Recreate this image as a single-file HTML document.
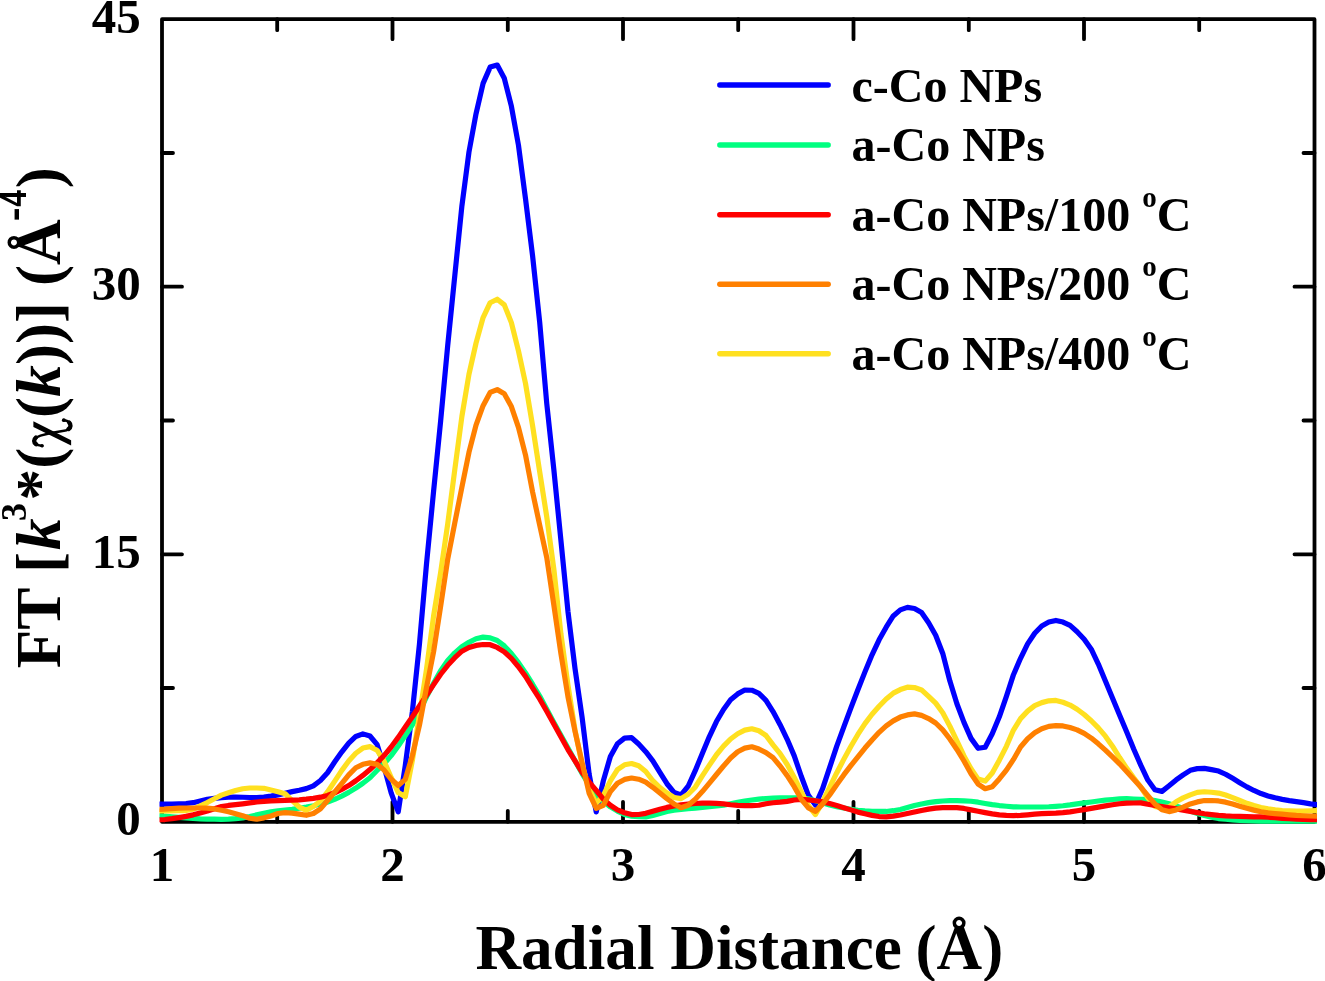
<!DOCTYPE html>
<html><head><meta charset="utf-8"><style>
html,body{margin:0;padding:0;background:#fff;}
svg{display:block;will-change:transform;}
.t{font-family:"Liberation Serif",serif;font-weight:bold;font-size:49px;fill:#000;}
.g{font-family:"Liberation Serif",serif;font-weight:bold;font-size:48px;fill:#000;}
.L{font-family:"Liberation Serif",serif;font-weight:bold;font-size:63.2px;fill:#000;}
</style></head><body>
<svg width="1325" height="981" viewBox="0 0 1325 981">
<rect width="1325" height="981" fill="#fff"/>
<path d="M162.0 19.2 H1314.5 V821.8 H162.0 Z" fill="none" stroke="#000" stroke-width="3.8" stroke-linejoin="round"/>
<path d="M277.2 821.8 v-11.0 M277.2 19.2 v11.0 M392.5 821.8 v-20.0 M392.5 19.2 v20.0 M507.8 821.8 v-11.0 M507.8 19.2 v11.0 M623.0 821.8 v-20.0 M623.0 19.2 v20.0 M738.2 821.8 v-11.0 M738.2 19.2 v11.0 M853.5 821.8 v-20.0 M853.5 19.2 v20.0 M968.8 821.8 v-11.0 M968.8 19.2 v11.0 M1084.0 821.8 v-20.0 M1084.0 19.2 v20.0 M1199.2 821.8 v-11.0 M1199.2 19.2 v11.0 M162.0 688.0 h11.0 M1314.5 688.0 h-11.0 M162.0 554.3 h20.0 M1314.5 554.3 h-20.0 M162.0 420.5 h11.0 M1314.5 420.5 h-11.0 M162.0 286.7 h20.0 M1314.5 286.7 h-20.0 M162.0 153.0 h11.0 M1314.5 153.0 h-11.0" fill="none" stroke="#000" stroke-width="3.8" stroke-linecap="round"/>
<clipPath id="cp"><rect x="159.5" y="0" width="1157.5" height="981"/></clipPath>
<g clip-path="url(#cp)">
<path d="M157.79 804.10 L164.87 804.09 L171.94 803.99 L179.01 803.80 L186.08 803.54 L193.15 802.70 L200.22 801.01 L207.30 799.38 L214.37 798.43 L221.44 797.63 L228.51 797.09 L235.58 797.03 L242.65 797.26 L249.73 797.52 L256.80 797.57 L263.87 797.03 L270.94 796.09 L278.01 794.91 L285.08 793.25 L292.16 791.62 L299.23 790.26 L306.30 788.62 L313.37 785.80 L320.44 780.52 L327.52 772.75 L334.59 762.02 L341.66 752.04 L348.73 743.14 L355.80 736.43 L362.87 733.88 L369.95 736.05 L377.02 744.40 L384.09 766.90 L391.16 792.92 L398.23 811.84 L405.30 765.40 L412.38 711.52 L419.45 643.94 L426.52 563.82 L433.59 491.29 L440.66 420.72 L447.73 345.32 L454.81 275.44 L461.88 206.10 L468.95 152.12 L476.02 113.83 L483.09 83.39 L490.16 67.11 L497.24 65.02 L504.31 78.28 L511.38 106.23 L518.45 145.11 L525.52 198.85 L532.59 255.89 L539.67 321.97 L546.74 403.37 L553.81 469.28 L560.88 540.10 L567.95 611.33 L575.02 668.66 L582.10 717.38 L589.17 774.27 L596.24 811.99 L603.31 780.85 L610.38 756.44 L617.45 743.74 L624.53 738.15 L631.60 737.70 L638.67 743.97 L645.74 751.71 L652.81 760.80 L659.89 772.34 L666.96 783.73 L674.03 792.34 L681.10 794.93 L688.17 786.21 L695.24 770.70 L702.32 753.50 L709.39 736.55 L716.46 721.53 L723.53 709.45 L730.60 699.83 L737.67 693.91 L744.75 690.08 L751.82 690.23 L758.89 693.43 L765.96 700.39 L773.03 711.59 L780.10 724.71 L787.18 739.33 L794.25 755.86 L801.32 776.52 L808.39 795.36 L815.46 804.89 L822.53 788.80 L829.61 767.64 L836.68 746.41 L843.75 727.19 L850.82 708.16 L857.89 689.75 L864.96 671.83 L872.04 654.84 L879.11 639.80 L886.18 627.18 L893.25 615.94 L900.32 609.86 L907.39 607.40 L914.47 608.49 L921.54 612.58 L928.61 622.84 L935.68 635.31 L942.75 653.45 L949.82 680.84 L956.90 703.75 L963.97 722.40 L971.04 738.37 L978.11 748.30 L985.18 747.20 L992.25 733.73 L999.33 716.79 L1006.40 696.39 L1013.47 674.68 L1020.54 658.27 L1027.61 643.83 L1034.69 633.25 L1041.76 625.95 L1048.83 622.08 L1055.90 620.41 L1062.97 622.05 L1070.04 625.36 L1077.12 631.69 L1084.19 639.18 L1091.26 649.15 L1098.33 664.07 L1105.40 680.99 L1112.47 698.00 L1119.55 714.90 L1126.62 731.83 L1133.69 749.04 L1140.76 765.13 L1147.83 780.08 L1154.90 789.69 L1161.98 791.37 L1169.05 785.79 L1176.12 779.92 L1183.19 774.86 L1190.26 770.33 L1197.33 768.61 L1204.41 768.35 L1211.48 769.67 L1218.55 771.03 L1225.62 774.26 L1232.69 778.37 L1239.76 782.68 L1246.84 786.87 L1253.91 790.49 L1260.98 793.56 L1268.05 795.92 L1275.12 797.81 L1282.19 799.37 L1289.27 800.58 L1296.34 801.59 L1303.41 802.69 L1310.48 803.93 L1317.55 804.70" fill="none" stroke="#0000ff" stroke-width="5.2" stroke-linejoin="round" stroke-linecap="round"/>
<path d="M157.79 815.70 L164.87 816.02 L171.94 816.75 L179.01 817.39 L186.08 817.94 L193.15 818.41 L200.22 818.81 L207.30 819.05 L214.37 819.21 L221.44 819.30 L228.51 819.16 L235.58 818.62 L242.65 817.86 L249.73 816.49 L256.80 814.91 L263.87 813.24 L270.94 811.85 L278.01 810.90 L285.08 810.12 L292.16 809.31 L299.23 808.27 L306.30 807.08 L313.37 805.70 L320.44 804.07 L327.52 802.01 L334.59 799.27 L341.66 796.08 L348.73 792.40 L355.80 788.09 L362.87 783.25 L369.95 777.76 L377.02 770.48 L384.09 763.75 L391.16 755.60 L398.23 745.96 L405.30 735.59 L412.38 724.81 L419.45 711.59 L426.52 696.80 L433.59 683.21 L440.66 670.67 L447.73 660.47 L454.81 652.84 L461.88 646.68 L468.95 642.32 L476.02 638.77 L483.09 637.10 L490.16 637.83 L497.24 640.51 L504.31 645.93 L511.38 653.57 L518.45 662.69 L525.52 672.99 L532.59 684.24 L539.67 696.08 L546.74 709.18 L553.81 722.53 L560.88 735.33 L567.95 747.90 L575.02 760.76 L582.10 773.61 L589.17 784.94 L596.24 794.10 L603.31 801.20 L610.38 806.87 L617.45 811.09 L624.53 814.51 L631.60 816.10 L638.67 816.77 L645.74 816.98 L652.81 815.39 L659.89 813.46 L666.96 811.47 L674.03 810.11 L681.10 809.39 L688.17 808.77 L695.24 808.04 L702.32 807.30 L709.39 806.62 L716.46 805.98 L723.53 805.11 L730.60 803.70 L737.67 802.24 L744.75 801.04 L751.82 799.99 L758.89 799.19 L765.96 798.55 L773.03 798.16 L780.10 797.88 L787.18 797.80 L794.25 797.80 L801.32 797.81 L808.39 798.88 L815.46 800.69 L822.53 802.76 L829.61 804.99 L836.68 806.64 L843.75 808.01 L850.82 809.28 L857.89 810.44 L864.96 810.96 L872.04 811.26 L879.11 811.45 L886.18 811.47 L893.25 810.70 L900.32 809.44 L907.39 807.58 L914.47 805.56 L921.54 803.97 L928.61 802.68 L935.68 801.66 L942.75 801.00 L949.82 800.72 L956.90 800.60 L963.97 800.80 L971.04 801.27 L978.11 802.20 L985.18 803.44 L992.25 804.57 L999.33 805.54 L1006.40 806.23 L1013.47 806.79 L1020.54 807.00 L1027.61 807.00 L1034.69 807.00 L1041.76 806.99 L1048.83 806.74 L1055.90 806.29 L1062.97 805.75 L1070.04 804.91 L1077.12 803.88 L1084.19 802.90 L1091.26 801.96 L1098.33 801.00 L1105.40 800.17 L1112.47 799.53 L1119.55 798.95 L1126.62 798.70 L1133.69 799.03 L1140.76 799.30 L1147.83 799.37 L1154.90 800.49 L1161.98 802.06 L1169.05 803.81 L1176.12 805.88 L1183.19 808.39 L1190.26 811.07 L1197.33 813.42 L1204.41 815.52 L1211.48 817.22 L1218.55 818.54 L1225.62 819.22 L1232.69 819.81 L1239.76 820.32 L1246.84 820.73 L1253.91 821.02 L1260.98 821.18 L1268.05 821.20 L1275.12 821.20 L1282.19 821.20 L1289.27 821.20 L1296.34 821.20 L1303.41 821.20 L1310.48 821.20 L1317.55 821.20" fill="none" stroke="#00ff80" stroke-width="5.2" stroke-linejoin="round" stroke-linecap="round"/>
<path d="M157.79 811.00 L164.87 810.99 L171.94 810.92 L179.01 810.77 L186.08 810.54 L193.15 809.15 L200.22 805.93 L207.30 802.57 L214.37 798.70 L221.44 795.13 L228.51 792.70 L235.58 790.48 L242.65 788.78 L249.73 788.01 L256.80 788.00 L263.87 788.31 L270.94 789.95 L278.01 791.74 L285.08 793.72 L292.16 800.55 L299.23 807.02 L306.30 810.30 L313.37 806.52 L320.44 800.96 L327.52 791.98 L334.59 781.36 L341.66 770.60 L348.73 761.00 L355.80 753.23 L362.87 748.07 L369.95 746.63 L377.02 750.20 L384.09 761.20 L391.16 777.46 L398.23 792.53 L405.30 796.68 L412.38 760.27 L419.45 715.41 L426.52 669.17 L433.59 615.99 L440.66 572.47 L447.73 523.76 L454.81 469.49 L461.88 416.49 L468.95 374.35 L476.02 343.09 L483.09 317.51 L490.16 302.74 L497.24 299.24 L504.31 304.87 L511.38 322.64 L518.45 350.84 L525.52 383.49 L532.59 425.74 L539.67 471.67 L546.74 516.73 L553.81 568.82 L560.88 633.66 L567.95 685.22 L575.02 730.20 L582.10 764.59 L589.17 789.02 L596.24 803.34 L603.31 795.59 L610.38 780.84 L617.45 769.54 L624.53 764.80 L631.60 763.51 L638.67 765.72 L645.74 771.50 L652.81 780.71 L659.89 787.55 L666.96 792.95 L674.03 797.44 L681.10 798.64 L688.17 794.27 L695.24 787.23 L702.32 775.89 L709.39 765.13 L716.46 754.74 L723.53 746.19 L730.60 738.98 L737.67 733.72 L744.75 730.15 L751.82 728.73 L758.89 730.77 L765.96 735.51 L773.03 744.90 L780.10 753.58 L787.18 764.51 L794.25 777.43 L801.32 791.82 L808.39 805.59 L815.46 814.55 L822.53 801.92 L829.61 787.32 L836.68 772.97 L843.75 759.40 L850.82 746.52 L857.89 734.44 L864.96 723.61 L872.04 714.29 L879.11 706.31 L886.18 698.96 L893.25 693.18 L900.32 689.57 L907.39 687.20 L914.47 687.54 L921.54 689.94 L928.61 696.36 L935.68 703.17 L942.75 712.71 L949.82 726.12 L956.90 740.92 L963.97 755.93 L971.04 768.83 L978.11 779.12 L985.18 781.09 L992.25 773.03 L999.33 760.17 L1006.40 746.31 L1013.47 730.06 L1020.54 718.64 L1027.61 711.12 L1034.69 705.63 L1041.76 702.63 L1048.83 700.78 L1055.90 700.43 L1062.97 702.26 L1070.04 705.06 L1077.12 709.28 L1084.19 714.48 L1091.26 720.73 L1098.33 727.89 L1105.40 736.16 L1112.47 746.18 L1119.55 757.54 L1126.62 768.13 L1133.69 777.88 L1140.76 787.04 L1147.83 797.92 L1154.90 806.45 L1161.98 807.89 L1169.05 806.85 L1176.12 801.78 L1183.19 797.86 L1190.26 794.86 L1197.33 792.34 L1204.41 791.74 L1211.48 792.23 L1218.55 793.11 L1225.62 795.04 L1232.69 797.66 L1239.76 800.53 L1246.84 803.35 L1253.91 805.55 L1260.98 807.44 L1268.05 808.81 L1275.12 809.86 L1282.19 810.54 L1289.27 810.84 L1296.34 811.05 L1303.41 811.09 L1310.48 810.85 L1317.55 810.60" fill="none" stroke="#ffe020" stroke-width="5.2" stroke-linejoin="round" stroke-linecap="round"/>
<path d="M157.79 819.80 L164.87 819.54 L171.94 818.69 L179.01 817.61 L186.08 816.37 L193.15 814.86 L200.22 813.00 L207.30 811.02 L214.37 808.67 L221.44 806.59 L228.51 805.45 L235.58 804.66 L242.65 803.85 L249.73 802.88 L256.80 801.97 L263.87 801.37 L270.94 800.95 L278.01 800.68 L285.08 800.47 L292.16 800.22 L299.23 799.82 L306.30 799.20 L313.37 798.32 L320.44 797.18 L327.52 795.53 L334.59 792.79 L341.66 789.42 L348.73 785.53 L355.80 780.75 L362.87 775.44 L369.95 769.52 L377.02 762.87 L384.09 755.56 L391.16 746.99 L398.23 737.36 L405.30 726.90 L412.38 716.77 L419.45 706.04 L426.52 695.33 L433.59 684.61 L440.66 674.24 L447.73 665.27 L454.81 657.71 L461.88 651.19 L468.95 647.52 L476.02 645.41 L483.09 644.50 L490.16 644.71 L497.24 647.43 L504.31 651.85 L511.38 658.39 L518.45 666.78 L525.52 676.35 L532.59 687.76 L539.67 698.95 L546.74 711.24 L553.81 724.05 L560.88 736.78 L567.95 749.59 L575.02 760.91 L582.10 772.40 L589.17 782.09 L596.24 790.47 L603.31 799.11 L610.38 805.26 L617.45 809.89 L624.53 812.74 L631.60 814.61 L638.67 814.50 L645.74 813.36 L652.81 811.35 L659.89 809.31 L666.96 807.40 L674.03 805.96 L681.10 804.94 L688.17 804.17 L695.24 803.52 L702.32 803.06 L709.39 803.08 L716.46 803.45 L723.53 803.95 L730.60 804.77 L737.67 805.39 L744.75 805.59 L751.82 805.69 L758.89 805.27 L765.96 803.79 L773.03 802.72 L780.10 802.11 L787.18 801.34 L794.25 799.98 L801.32 799.31 L808.39 799.81 L815.46 800.74 L822.53 801.93 L829.61 803.52 L836.68 805.41 L843.75 807.65 L850.82 809.87 L857.89 812.10 L864.96 813.81 L872.04 815.38 L879.11 816.56 L886.18 816.87 L893.25 816.11 L900.32 814.95 L907.39 813.53 L914.47 811.97 L921.54 810.45 L928.61 809.18 L935.68 808.20 L942.75 807.70 L949.82 807.70 L956.90 807.70 L963.97 808.44 L971.04 809.84 L978.11 811.22 L985.18 812.63 L992.25 813.89 L999.33 814.85 L1006.40 815.35 L1013.47 815.60 L1020.54 815.39 L1027.61 814.83 L1034.69 814.18 L1041.76 813.71 L1048.83 813.42 L1055.90 813.13 L1062.97 812.66 L1070.04 811.81 L1077.12 810.73 L1084.19 809.60 L1091.26 808.40 L1098.33 807.08 L1105.40 805.84 L1112.47 804.78 L1119.55 803.77 L1126.62 803.19 L1133.69 802.98 L1140.76 802.93 L1147.83 804.23 L1154.90 805.44 L1161.98 806.63 L1169.05 807.78 L1176.12 808.94 L1183.19 810.14 L1190.26 811.34 L1197.33 812.57 L1204.41 813.74 L1211.48 814.63 L1218.55 815.40 L1225.62 815.96 L1232.69 816.26 L1239.76 816.43 L1246.84 816.60 L1253.91 816.78 L1260.98 816.96 L1268.05 817.25 L1275.12 817.77 L1282.19 818.32 L1289.27 818.78 L1296.34 819.20 L1303.41 819.44 L1310.48 819.57 L1317.55 819.60" fill="none" stroke="#ff0000" stroke-width="5.2" stroke-linejoin="round" stroke-linecap="round"/>
<path d="M157.79 809.40 L164.87 809.15 L171.94 808.59 L179.01 808.18 L186.08 808.00 L193.15 808.00 L200.22 808.00 L207.30 808.05 L214.37 808.93 L221.44 810.32 L228.51 811.80 L235.58 813.66 L242.65 815.65 L249.73 818.29 L256.80 819.22 L263.87 817.83 L270.94 815.98 L278.01 813.51 L285.08 812.63 L292.16 813.14 L299.23 814.19 L306.30 815.28 L313.37 813.53 L320.44 808.84 L327.52 800.54 L334.59 792.23 L341.66 783.64 L348.73 774.85 L355.80 767.77 L362.87 764.31 L369.95 762.91 L377.02 764.33 L384.09 770.09 L391.16 779.14 L398.23 785.48 L405.30 779.35 L412.38 755.46 L419.45 725.16 L426.52 687.50 L433.59 651.73 L440.66 606.16 L447.73 559.09 L454.81 522.73 L461.88 487.33 L468.95 452.44 L476.02 425.18 L483.09 405.73 L490.16 392.45 L497.24 389.63 L504.31 393.67 L511.38 406.58 L518.45 427.31 L525.52 455.11 L532.59 492.05 L539.67 524.93 L546.74 557.48 L553.81 604.98 L560.88 653.43 L567.95 696.61 L575.02 731.35 L582.10 762.80 L589.17 793.37 L596.24 808.28 L603.31 805.24 L610.38 791.59 L617.45 783.23 L624.53 779.42 L631.60 778.01 L638.67 779.21 L645.74 782.12 L652.81 787.29 L659.89 792.96 L666.96 798.77 L674.03 803.91 L681.10 807.77 L688.17 805.30 L695.24 799.26 L702.32 791.60 L709.39 783.17 L716.46 774.50 L723.53 766.00 L730.60 758.04 L737.67 751.73 L744.75 748.12 L751.82 746.74 L758.89 749.07 L765.96 752.55 L773.03 757.64 L780.10 766.00 L787.18 775.66 L794.25 786.70 L801.32 799.23 L808.39 807.86 L815.46 811.31 L822.53 804.06 L829.61 795.00 L836.68 784.67 L843.75 774.92 L850.82 765.68 L857.89 756.76 L864.96 748.04 L872.04 739.95 L879.11 732.31 L886.18 725.92 L893.25 720.88 L900.32 717.09 L907.39 714.90 L914.47 713.90 L921.54 715.41 L928.61 718.53 L935.68 723.00 L942.75 729.87 L949.82 738.97 L956.90 749.42 L963.97 760.99 L971.04 773.85 L978.11 784.10 L985.18 788.70 L992.25 786.75 L999.33 778.94 L1006.40 770.15 L1013.47 759.42 L1020.54 746.95 L1027.61 738.79 L1034.69 732.86 L1041.76 728.82 L1048.83 726.41 L1055.90 725.68 L1062.97 725.96 L1070.04 727.54 L1077.12 729.85 L1084.19 733.36 L1091.26 738.09 L1098.33 743.86 L1105.40 750.18 L1112.47 756.87 L1119.55 763.82 L1126.62 771.47 L1133.69 779.26 L1140.76 787.06 L1147.83 795.64 L1154.90 803.89 L1161.98 809.81 L1169.05 811.60 L1176.12 809.96 L1183.19 807.09 L1190.26 803.88 L1197.33 801.90 L1204.41 800.54 L1211.48 800.50 L1218.55 800.95 L1225.62 802.15 L1232.69 804.07 L1239.76 806.28 L1246.84 808.34 L1253.91 810.14 L1260.98 811.77 L1268.05 812.89 L1275.12 813.60 L1282.19 814.20 L1289.27 814.82 L1296.34 815.39 L1303.41 815.77 L1310.48 816.02 L1317.55 816.10" fill="none" stroke="#ff8000" stroke-width="5.2" stroke-linejoin="round" stroke-linecap="round"/>
</g>
<text x="162.0" y="881" text-anchor="middle" class="t">1</text>
<text x="392.5" y="881" text-anchor="middle" class="t">2</text>
<text x="623.0" y="881" text-anchor="middle" class="t">3</text>
<text x="853.5" y="881" text-anchor="middle" class="t">4</text>
<text x="1084.0" y="881" text-anchor="middle" class="t">5</text>
<text x="1314.5" y="881" text-anchor="middle" class="t">6</text>
<text x="140.8" y="835.1" text-anchor="end" class="t">0</text>
<text x="140.8" y="567.7" text-anchor="end" class="t">15</text>
<text x="140.8" y="300.4" text-anchor="end" class="t">30</text>
<text x="140.8" y="33.0" text-anchor="end" class="t">45</text>
<path d="M719.8 85.0 H828.2" stroke="#0000ff" stroke-width="5.4" stroke-linecap="round"/>
<text x="851.5" y="101.8" class="g">c-Co NPs</text>
<path d="M719.8 145.0 H828.2" stroke="#00ff80" stroke-width="5.4" stroke-linecap="round"/>
<text x="851.5" y="161.3" class="g">a-Co NPs</text>
<path d="M719.8 214.7 H828.2" stroke="#ff0000" stroke-width="5.4" stroke-linecap="round"/>
<text x="851.5" y="231.1" class="g">a-Co NPs/100 <tspan dy="-24" font-size="29">o</tspan><tspan dy="24">C</tspan></text>
<path d="M719.8 284.2 H828.2" stroke="#ff8000" stroke-width="5.4" stroke-linecap="round"/>
<text x="851.5" y="300.4" class="g">a-Co NPs/200 <tspan dy="-24" font-size="29">o</tspan><tspan dy="24">C</tspan></text>
<path d="M719.8 353.8 H828.2" stroke="#ffe020" stroke-width="5.4" stroke-linecap="round"/>
<text x="851.5" y="369.7" class="g">a-Co NPs/400 <tspan dy="-24" font-size="29">o</tspan><tspan dy="24">C</tspan></text>
<text x="475.4" y="968.7" class="L">Radial Distance <tspan dx="-2.2">(&#197;)</tspan></text>
<text transform="translate(60 668.3) rotate(-90)" class="L"><tspan x="0">FT [</tspan><tspan x="118.2" font-style="italic">k</tspan><tspan x="147.4" dy="-34.3" font-size="36">3</tspan><tspan x="167.9" dy="34.3">*(</tspan><tspan x="250.4">(</tspan><tspan x="271.6" font-style="italic">k</tspan><tspan x="303.3">))] (&#197;</tspan><tspan x="480">)</tspan></text>
<path d="M33.4 421.2 L71.1 440.3 L71.1 445.4 L33.4 426.9 Z" fill="#000"/>
<path d="M63.6 420.0 C67 420.6 70.8 422.6 70.8 425.8 C70.8 429.4 66 430.6 62.6 430.9 C56 431.8 47 433.6 40.5 435.6 C35.5 437.2 33.6 440.2 34.9 443.1 C35.8 445 38.5 445.6 42.4 445.9" fill="none" stroke="#000" stroke-width="2.5" stroke-linecap="round"/>
<path d="M69.2 422.6 C71 424.2 71 427.6 68.6 429.0 M35.8 437.6 C33.6 439.4 33.6 442.6 36.0 444.2" fill="none" stroke="#000" stroke-width="4.4" stroke-linecap="round"/>
<circle cx="63.8" cy="420.2" r="1.9" fill="#000"/><circle cx="42.0" cy="445.8" r="1.8" fill="#000"/>
<text transform="translate(26.2 221.2) rotate(-90) scale(1.14 1)" font-family="Liberation Sans" font-weight="bold" font-size="36.5">-</text>
<text transform="translate(25.8 206.85) rotate(-90) scale(0.815 1)" font-family="Liberation Sans" font-weight="bold" font-size="36.5">4</text>
</svg>
</body></html>
